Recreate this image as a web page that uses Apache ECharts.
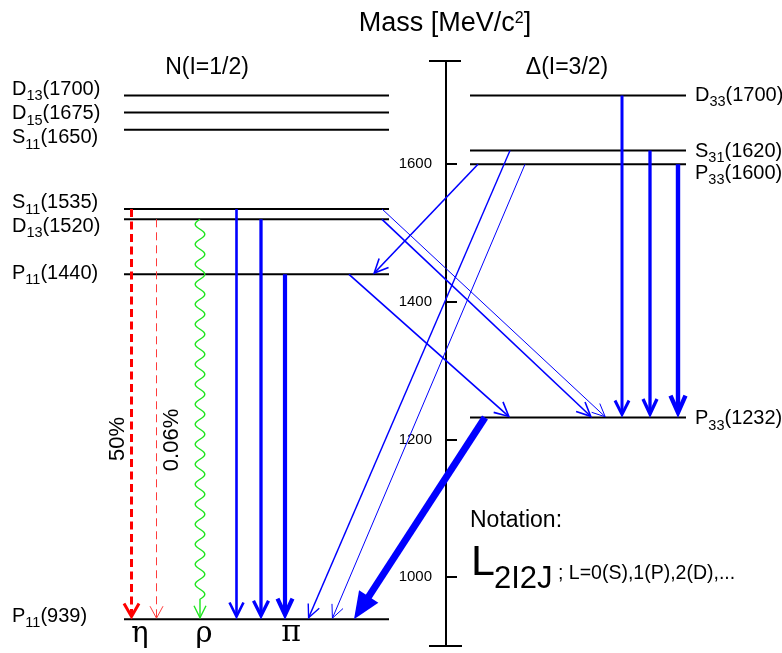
<!DOCTYPE html>
<html>
<head>
<meta charset="utf-8">
<script src="https://cdn.jsdelivr.net/npm/echarts@6/dist/echarts.min.js"></script>
<style>
  html, body { margin: 0; padding: 0; background: #fff; }
  #chart { width: 782px; height: 653px; }
</style>
</head>
<body>
<div id="chart"></div>
<script>
// ---- Resonance data -------------------------------------------------------
// Nucleon states N (I=1/2): spectroscopic name and mass [MeV/c^2]
const nucleonStates = ['P11', 'D13', 'S11', 'P11', 'S11', 'D15', 'D13'];
const nucleonMasses = [939, 1520, 1535, 1440, 1650, 1675, 1700];
// Delta states (I=3/2)
const deltaStates = ['P33', 'P33', 'S31', 'D33'];
const deltaMasses = [1232, 1600, 1620, 1700];
// Decays: mass of the initial and of the final state
const decayFrom = [1535, 1520, 1520, 1535, 1520, 1440, 1700, 1620, 1600, 1600, 1620, 1600, 1535, 1520, 1440, 1232];
const decayTo   = [939,  939,  939,  939,  939,  939,  1232, 1232, 1232, 1440, 939,  939,  1232, 1232, 1232, 939];
// Branching ratios written beside the eta decays
const branchLabels = ['50%', '0.06%'];
// Emitted mesons
const mesonLabels = ['η', 'ρ', 'π'];
// Mass axis
const massTicks = [1000, 1200, 1400, 1600];
const massRange = [900, 1750];

// ---- Layout (horizontal positions in px relative to the mass axis) ---------
const FONT = 'Liberation Sans, Arial, Helvetica, sans-serif';
const AXIS_X = 446;
const nucleonSpan = [-322, -57];
const deltaSpan = [24, 240];
const nucleonLabelX = -434;
const deltaLabelX = 249;
const nucleonLabelDy = [-3, 7, -6, -1, 8, 1, -6];
const deltaLabelDy = [1, 9, 1, 0];
const decayX = [
  [-314.5, -314.5], [-289.5, -289.5], [-246, -246],
  [-209.5, -209.5], [-185, -185], [-161, -161],
  [176, 176], [204, 204], [232, 232],
  [32, -73], [64, -138], [79, -114],
  [-64, 160], [-64, 146], [-97, 64],
  [39, -92]
];
const RED = '#ff0000', PINK = '#ff3b3b', GREEN = '#1fe51f', BLUE = '#0000ff';
const decayStyle = [
  { color: RED, width: 3, dash: [8, 4.5], hl: 13, hw: 7.5 },
  { color: PINK, width: 1, dash: [8, 5], hl: 12, hw: 6.5 },
  { color: GREEN, width: 1.4, hl: 12, hw: 6, wave: { amp: 4.8, period: 20 } },
  { color: BLUE, width: 2.6, hl: 14, hw: 7 },
  { color: BLUE, width: 3.3, hl: 15, hw: 7.5 },
  { color: BLUE, width: 4.2, hl: 16, hw: 7.5 },
  { color: BLUE, width: 3, hl: 14, hw: 7 },
  { color: BLUE, width: 3.3, hl: 15, hw: 7 },
  { color: BLUE, width: 4.4, hl: 17, hw: 7.5 },
  { color: BLUE, width: 1.6, hl: 14, hw: 6.5 },
  { color: BLUE, width: 1.4, hl: 13, hw: 6 },
  { color: BLUE, width: 1, hl: 13, hw: 6 },
  { color: BLUE, width: 1, hl: 13, hw: 6 },
  { color: BLUE, width: 1.6, hl: 14, hw: 6.5 },
  { color: BLUE, width: 1.6, hl: 14, hw: 7 },
  { color: BLUE, width: 7, hl: 27, hw: 11.5, filled: true }
];

const labelRich = {
  m: { fontSize: 20, fontFamily: FONT, fill: '#000' },
  s: { fontSize: 14.5, fontFamily: FONT, fill: '#000', padding: [14, 0, 0, 0] }
};
function stateLabel(name, mass) {
  return '{m|' + name[0] + '}{s|' + name.slice(1) + '}{m|(' + mass + ')}';
}

// ---- Renderers --------------------------------------------------------------
function renderLevel(params, api) {
  const side = api.value(4), idx = api.value(3), m = api.value(1);
  const a = api.coord([api.value(0), m]);
  const b = api.coord([api.value(2), m]);
  const name = side ? deltaStates[idx] : nucleonStates[idx];
  const lp = api.coord([side ? deltaLabelX : nucleonLabelX, m]);
  const dy = side ? deltaLabelDy[idx] : nucleonLabelDy[idx];
  return {
    type: 'group',
    children: [
      { type: 'line', shape: { x1: a[0], y1: a[1], x2: b[0], y2: b[1] },
        style: { stroke: '#000', lineWidth: 2 } },
      { type: 'text', x: lp[0], y: lp[1] + dy,
        style: { text: stateLabel(name, m), rich: labelRich, fontFamily: FONT, fontSize: 20,
                 fill: '#000', align: 'left', verticalAlign: 'middle' } }
    ]
  };
}

function renderDecay(params, api) {
  const i = api.value(4);
  const st = decayStyle[i];
  const p0 = api.coord([api.value(0), api.value(1)]);
  const p1 = api.coord([api.value(2), api.value(3)]);
  const dx = p1[0] - p0[0], dy = p1[1] - p0[1];
  const len = Math.hypot(dx, dy);
  const ux = dx / len, uy = dy / len, nx = -uy, ny = ux;
  const at = (t, s) => [p0[0] + ux * t + nx * s, p0[1] + uy * t + ny * s];
  const children = [];
  const headW = st.width;

  if (st.filled) {
    const e = at(len - st.hl * 0.8, 0);
    children.push({ type: 'line', shape: { x1: p0[0], y1: p0[1], x2: e[0], y2: e[1] },
      style: { stroke: st.color, lineWidth: st.width } });
    children.push({ type: 'polygon', shape: { points: [at(len, 0), at(len - st.hl, st.hw), at(len - st.hl, -st.hw)] },
      style: { fill: st.color } });
    return { type: 'group', children };
  }

  // open chevron head; apex pulled back so the miter ends on the level
  const ext = (headW / 2) / Math.sin(Math.atan2(st.hw, st.hl));
  const tipT = len - ext * 0.9;
  const head = [at(tipT - st.hl, st.hw), at(tipT, 0), at(tipT - st.hl, -st.hw)];

  if (st.wave) {
    const half = st.wave.period / 2;
    const tEnd = Math.floor((len - st.hl - 2) / half) * half;
    const pts = [];
    for (let t = 0; t <= tEnd; t += 1) {
      pts.push(at(t, st.wave.amp * Math.sin(2 * Math.PI * t / st.wave.period)));
    }
    pts.push(at(tipT, 0));
    children.push({ type: 'polyline', shape: { points: pts },
      style: { stroke: st.color, lineWidth: st.width, fill: null } });
  } else {
    const e = at(tipT - headW * 0.3, 0);
    children.push({ type: 'line', shape: { x1: p0[0], y1: p0[1], x2: e[0], y2: e[1] },
      style: { stroke: st.color, lineWidth: st.width, lineDash: st.dash || null } });
  }
  children.push({ type: 'polyline', shape: { points: head },
    style: { stroke: st.color, lineWidth: headW, fill: null, lineJoin: 'miter', miterLimit: 10 } });
  return { type: 'group', children };
}

function renderCap(params, api) {
  const a = api.coord([api.value(0), api.value(1)]);
  const b = api.coord([api.value(2), api.value(1)]);
  return { type: 'line', shape: { x1: a[0], y1: a[1], x2: b[0], y2: b[1] },
    style: { stroke: '#000', lineWidth: 2 } };
}

// ---- Data for the series ------------------------------------------------------
const levelData = nucleonMasses.map((m, i) => [nucleonSpan[0], m, nucleonSpan[1], i, 0])
  .concat(deltaMasses.map((m, i) => [deltaSpan[0], m, deltaSpan[1], i, 1]));
const decayData = decayFrom.map((f, i) => [decayX[i][0], f, decayX[i][1], decayTo[i], i]);
const capData = [[-17, massRange[1], 15], [-17, massRange[0], 16]];

// ---- Fixed texts ----------------------------------------------------------------
const txt = (x, y, text, size, extra) => ({
  type: 'text', x: x, y: y, silent: true,
  style: Object.assign({ text: text, fontFamily: FONT, fontSize: size, fill: '#000',
                         align: 'center', verticalAlign: 'middle' }, extra || {})
});
const SERIF = 'DejaVu Serif, Liberation Serif, serif';

const graphics = [
  txt(445, 24, 'Mass [MeV/c{sup|2}]', 27, {
    rich: { sup: { fontSize: 16, fontFamily: FONT, fill: '#000', padding: [0, 0, 10, 0] } }
  }),
  txt(207, 68, 'N(I=1/2)', 23),
  txt(567, 68, 'Δ(I=3/2)', 23),
  txt(470, 521, 'Notation:', 23, { align: 'left' }),
  txt(471, 563, 'L', 43, { align: 'left' }),
  txt(494, 579, '2I2J', 31, { align: 'left' }),
  txt(558, 574, '; L=0(S),1(P),2(D),...', 19.5, { align: 'left' }),
  txt(140, 634, mesonLabels[0], 29, { fontFamily: SERIF }),
  txt(204, 634, mesonLabels[1], 29, { fontFamily: SERIF }),
  txt(291, 633, mesonLabels[2], 30, { fontFamily: SERIF })
];
const pctA = txt(118, 439, branchLabels[0], 22);
pctA.rotation = Math.PI / 2;
const pctB = txt(172, 440, branchLabels[1], 22);
pctB.rotation = Math.PI / 2;
graphics.push(pctA, pctB);

const chart = echarts.init(document.getElementById('chart'), null, { renderer: 'canvas' });
chart.setOption({
  animation: false,
  backgroundColor: '#fff',
  // the grid starts at the mass axis; the nucleon column lies at negative x
  grid: { left: AXIS_X, right: 0, top: 61, bottom: 7, containLabel: false, outerBoundsMode: 'none' },
  xAxis: { type: 'value', min: 0, max: 782 - AXIS_X, show: false },
  yAxis: {
    type: 'value', min: massRange[0], max: massRange[1], position: 'left',
    axisLine: { show: true, onZero: false, lineStyle: { color: '#000', width: 2 } },
    axisTick: { show: true, inside: true, length: 11, customValues: massTicks,
                lineStyle: { color: '#000', width: 2 } },
    axisLabel: { customValues: massTicks, margin: 14, fontSize: 15, fontFamily: FONT, color: '#000',
                 formatter: (v) => String(v) },
    splitLine: { show: false }
  },
  graphic: graphics,
  series: [
    { type: 'custom', name: 'levels', coordinateSystem: 'cartesian2d', clip: false, silent: true,
      renderItem: renderLevel, data: levelData, encode: { x: [0, 2], y: 1 } },
    { type: 'custom', name: 'decays', coordinateSystem: 'cartesian2d', clip: false, silent: true,
      renderItem: renderDecay, data: decayData, encode: { x: [0, 2], y: [1, 3] }, z: 3 },
    { type: 'custom', name: 'axisCaps', coordinateSystem: 'cartesian2d', clip: false, silent: true,
      renderItem: renderCap, data: capData, encode: { x: [0, 2], y: 1 } }
  ]
});
</script>
</body>
</html>
